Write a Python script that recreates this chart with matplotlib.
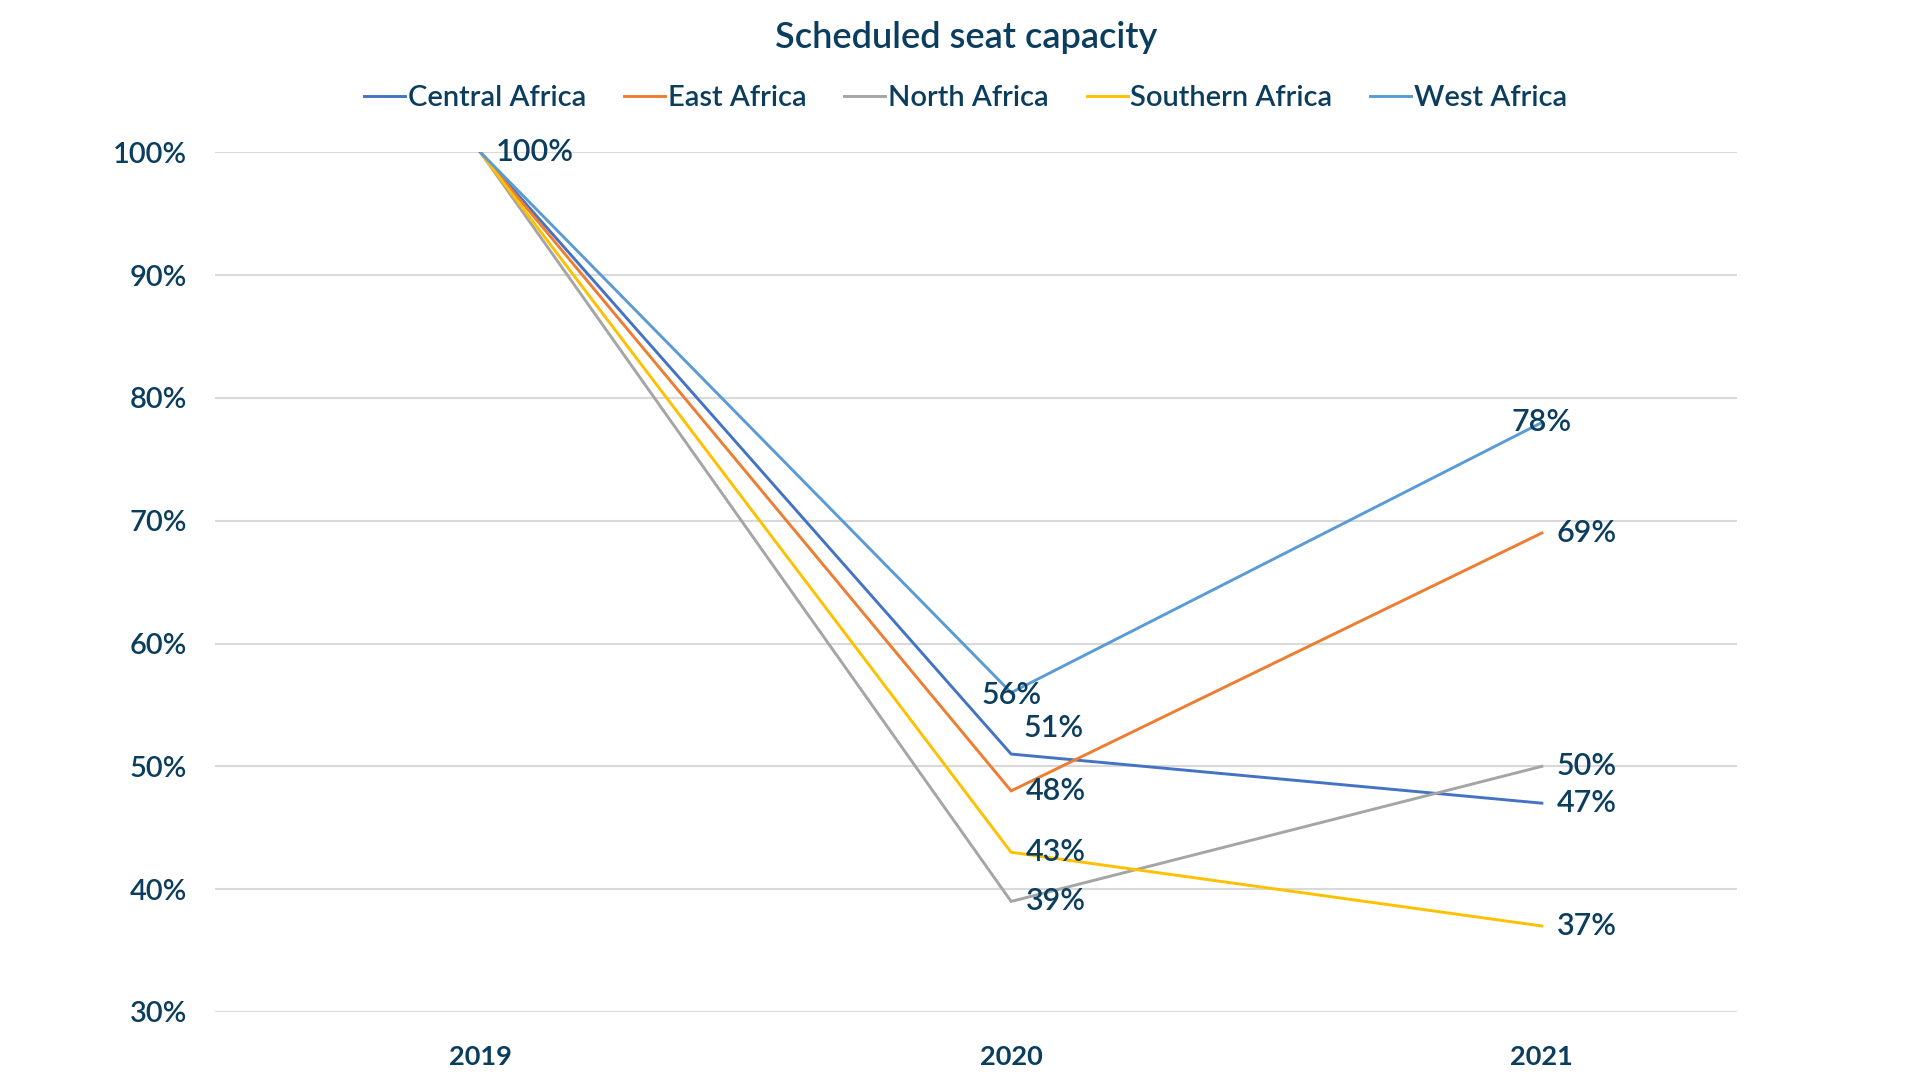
import matplotlib
matplotlib.use("Agg")
import matplotlib.pyplot as plt
from matplotlib.ticker import FixedLocator, FuncFormatter

years = ["2019", "2020", "2021"]
regions = ["Central Africa", "East Africa", "North Africa", "Southern Africa", "West Africa"]
central = [100, 51, 47]
east = [100, 48, 69]
north = [100, 39, 50]
southern = [100, 43, 37]
west = [100, 56, 78]
series = [central, east, north, southern, west]
colors = ["#4472C4", "#ED7D31", "#A5A5A5", "#FFC000", "#5B9BD5"]
yticks = [30, 40, 50, 60, 70, 80, 90, 100]

TEXT = "#0B3D5E"
plt.rcParams['font.family'] = ['Lato', 'DejaVu Sans']

fig = plt.figure(figsize=(19.2, 10.8), dpi=100)
ax = fig.add_axes([0.112, 0.063, 0.7925, 0.796])

x = list(range(len(years)))
lines = []
for name, vals, c in zip(regions, series, colors):
    ln, = ax.plot(x, vals, color=c, lw=2.1, label=name, solid_joinstyle='miter')
    lines.append(ln)

ax.set_xlim(-0.5, len(years) - 0.633)
ax.set_ylim(30, 100)
ax.yaxis.set_major_locator(FixedLocator(yticks))
ax.yaxis.set_major_formatter(FuncFormatter(lambda v, p: f"{v:.0f}%"))
ax.set_xticks(x)
ax.set_xticklabels(years)
ax.grid(axis='y', color='#D9D9D9', lw=1.5)
ax.set_axisbelow(True)
for s in ax.spines.values():
    s.set_visible(False)
ax.tick_params(axis='both', length=0, colors=TEXT, labelsize=21)
ax.tick_params(axis='y', pad=20)
ax.tick_params(axis='x', pad=24)
for lbl in ax.get_yticklabels():
    lbl.set_fontweight('semibold')
for lbl in ax.get_xticklabels():
    lbl.set_fontweight('bold')
    lbl.set_fontsize(19.5)

# data labels (offsets in pixels)
default_off = (15, 0, 'left')
special = {
    (0, 1): (12, 26, 'left'),   # Central 2020
    (4, 1): (0, -2, 'center'),   # West 2020
    (4, 2): (0, 0, 'center'),    # West 2021
}
for si, vals in enumerate(series):
    for xi, v in enumerate(vals):
        if xi == 0 and si != 4:
            continue
        dx, dy, ha = special.get((si, xi), default_off)
        ax.annotate(f"{v}%", (xi, v), xytext=(dx, dy), textcoords='offset pixels',
                    ha=ha, va='center', color=TEXT, fontsize=22, fontweight='semibold')

fig.text(0.503, 0.965, "Scheduled seat capacity", ha='center', va='center',
         color=TEXT, fontsize=26, fontweight='semibold')
fig.legend(handles=lines, labels=regions, loc='center', bbox_to_anchor=(0.503, 0.909),
           ncol=5, frameon=False, prop={'size': 21, 'weight': 'semibold'},
           labelcolor=TEXT, handlelength=1.4, handletextpad=0.1, columnspacing=1.3)

fig.savefig("out.png", dpi=100, facecolor='white')
